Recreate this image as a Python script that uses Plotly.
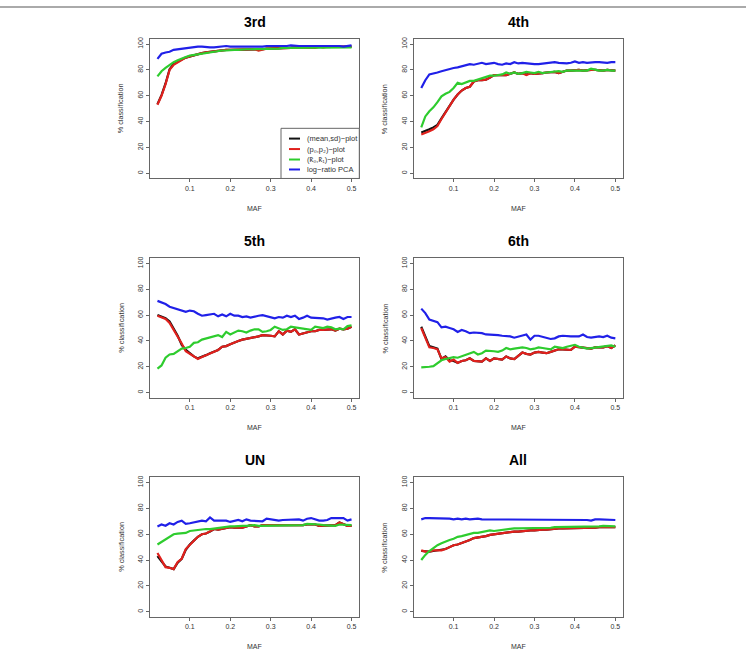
import plotly.graph_objects as go

W, H = 746, 654

# ---------------- data ----------------
maf = [0.02, 0.03, 0.04, 0.05, 0.06, 0.07, 0.08, 0.09, 0.10, 0.11,
       0.12, 0.13, 0.14, 0.15, 0.16, 0.17, 0.18, 0.19, 0.20, 0.21,
       0.22, 0.23, 0.24, 0.25, 0.26, 0.27, 0.28, 0.29, 0.30, 0.31,
       0.32, 0.33, 0.34, 0.35, 0.36, 0.37, 0.38, 0.39, 0.40, 0.41,
       0.42, 0.43, 0.44, 0.45, 0.46, 0.47, 0.48, 0.49, 0.50]

panel_titles = ["3rd", "4th", "5th", "6th", "UN", "All"]
series_names = ["(mean,sd)\u2212plot", "(p\u2080,p\u2082)\u2212plot",
                "(k\u0302\u2080,k\u0302\u2081)\u2212plot", "log\u2212ratio PCA"]
x_ticks = [0.1, 0.2, 0.3, 0.4, 0.5]
x_tick_labels = ["0.1", "0.2", "0.3", "0.4", "0.5"]
y_ticks = [0, 20, 40, 60, 80, 100]
y_tick_labels = ["0", "20", "40", "60", "80", "100"]

# 3rd
p3_black = [53.5, 60.5, 69.5, 80.5, 84.5, 86.5, 88, 89.5, 90.5, 91.5,
            92, 93, 93.5, 94, 94, 94.5, 95, 95.5, 95.5, 95.5,
            96, 96, 96, 96, 96, 95.5, 96, 96.5, 96.5, 96.5,
            97, 97, 97, 97, 97.5, 97.5, 97.5, 97.5, 97.5, 97.5,
            98, 97.5, 98, 98, 98, 98, 98, 98, 98]
p3_red = [53, 60, 69, 80, 84, 86, 88, 89.5, 90.5, 91.5,
          92, 93, 93.5, 94, 94, 94.5, 95, 95.5, 95.5, 95.5,
          96, 96, 96, 96, 96, 95, 96, 96.5, 96.5, 96.5,
          97, 97, 97, 97, 97.5, 97.5, 97.5, 97.5, 97.5, 97,
          98, 97.5, 98, 98, 98, 98, 98, 98, 98]
p3_green = [75, 79, 81.5, 84, 86, 87.5, 89, 90, 91, 91.5,
            92, 93, 93.5, 94, 94.5, 94.5, 95, 95, 95.5, 95.5,
            95.5, 96, 96, 96, 96, 96.5, 96.5, 96.5, 96.5, 96.5,
            96.5, 97, 97, 97, 97, 97, 97, 97, 97, 97.5,
            97, 97.5, 97.5, 97, 97.5, 97.5, 97, 97.5, 97.5]
p3_blue = [88.5, 92.5, 93.5, 94, 95.5, 96, 96.5, 97, 97.5, 97.5,
           98, 98, 97.5, 97.5, 97.5, 98, 98, 98.5, 98, 98,
           98, 98, 98, 98, 97.5, 98, 98, 98.5, 98.5, 98.5,
           98, 98.5, 98.5, 99, 98.5, 98.5, 98.5, 98.5, 98.5, 98.5,
           98.5, 99, 98.5, 99, 98.5, 98.5, 98, 98.5, 99]

# 4th
p4_black = [31.5, 32.5, 34, 35.5, 37.5, 42.5, 47.5, 53, 57, 61,
            64, 66, 67, 71, 72, 72, 72.5, 74, 76, 76,
            76, 76, 77, 78, 77, 77.5, 76.5, 77.5, 77, 77,
            77.5, 78, 78.5, 78.5, 77.5, 78.5, 79.5, 79.5, 80, 80,
            79.5, 80, 80, 80, 79.5, 79.5, 80, 79.5, 79.5]
p4_red = [30, 31, 32.5, 34, 36.5, 42, 47, 53, 57, 61,
          64, 66, 67, 71, 72, 72, 72.5, 74, 76, 76,
          76, 76, 77, 78, 77, 77.5, 76, 77.5, 77, 77,
          77.5, 78, 78.5, 78.5, 77.5, 78.5, 79.5, 79.5, 80, 80,
          79.5, 80, 80, 80, 79.5, 79.5, 80, 79.5, 79.5]
p4_green = [35.5, 44, 48, 51, 55, 59.5, 61.5, 63, 66, 70,
            69, 70, 71.5, 71.5, 72.5, 73.5, 74.5, 75.5, 75.5, 76,
            76.5, 78, 77, 78, 77, 77.5, 78.5, 78, 77.5, 78.5,
            77.5, 78, 78.5, 79, 79, 78.5, 79.5, 79.5, 79.5, 79.5,
            80, 79.5, 81, 80, 79.5, 79.5, 80, 79.5, 79.5]
p4_blue = [66, 72, 76.5, 77, 78, 79, 80, 80.5, 81.5, 82,
           83, 84, 84.5, 84, 85, 85.5, 84.5, 85, 85.5, 84.5,
           84, 85, 84.5, 86, 85, 85.5, 85, 85, 84.5, 84.5,
           85, 85, 85.5, 86, 85.5, 85, 85, 85.5, 86.5, 85.5,
           86, 85.5, 86, 86, 86, 85.5, 85.5, 86, 86]

# 5th
p5_black = [60, 59, 57.5, 55, 50, 44, 37, 33, 30.5, 28,
            26.5, 27.5, 29, 30.5, 32, 33, 35.5, 36, 37.5, 39,
            40, 41, 41.5, 42.5, 43, 43.5, 44.5, 44.5, 44, 43.5,
            47.5, 45, 48, 47, 49, 45, 46, 47, 47.5, 47.5,
            48.5, 48.5, 49, 49, 48, 49.5, 49, 49.5, 51]
p5_red = [59.5, 58.5, 57, 54, 49, 43, 38, 32, 30, 27.5,
          26, 27.5, 29, 30.5, 32, 33, 35.5, 36, 37.5, 39,
          40, 41, 41.5, 42.5, 43, 43.5, 44.5, 44.5, 44, 43.5,
          47.5, 45, 48, 47, 49, 45, 46, 47, 47.5, 47.5,
          48.5, 48.5, 49, 49, 48, 49.5, 49, 49.5, 51]
p5_green = [18.5, 21, 27, 29.5, 30, 32, 34, 34.5, 35.5, 38.5,
            39, 41, 42, 42.5, 43.5, 44.5, 43, 47, 45, 46.5,
            48, 47.5, 46.5, 48, 49, 49, 47, 47.5, 48.5, 51,
            50, 48.5, 49, 51, 50.5, 50, 50, 49, 48.5, 51,
            50.5, 50, 51, 50.5, 49, 49.5, 49, 51.5, 52]
p5_blue = [71, 70, 68.5, 66.5, 65.5, 65, 64, 62.5, 63.5, 63,
           61, 59.5, 60, 60.5, 61, 59, 60.5, 59, 61, 59.5,
           59.5, 58.5, 59, 58, 59, 59.5, 60, 59, 58, 57.5,
           58.5, 58, 59.5, 58.5, 59.5, 57, 58, 59.5, 58, 58,
           58, 57.5, 56.5, 57.5, 58, 58.5, 57, 58.5, 58.5]

# 6th
p6_black = [51, 44, 36, 35, 34, 26, 28, 25, 24.5, 23,
            24.5, 25, 26.5, 24.5, 24.5, 24, 26.5, 24.5, 26.5, 26,
            25.5, 28, 26.5, 26, 28.5, 31, 30, 29.5, 31, 31.5,
            31, 30.5, 31.5, 32.5, 33.5, 33.5, 33, 33, 35.5, 35,
            34.5, 34, 34, 35, 35, 35, 36, 34.5, 36.5]
p6_red = [50, 43, 35, 34.5, 33.5, 26.5, 27.5, 24, 25.5, 23,
          24.5, 25, 26.5, 24.5, 24.5, 24, 26.5, 24.5, 26.5, 26,
          25.5, 28, 26.5, 26, 28.5, 31, 30, 29.5, 31, 31.5,
          31, 30.5, 31.5, 32.5, 33.5, 33.5, 33, 33, 35.5, 35,
          34.5, 34, 34, 35, 35, 35, 36, 34.5, 36.5]
p6_green = [19.5, 19.5, 20, 20.5, 22.5, 25, 26, 26.5, 27.5, 27,
            28, 29.5, 30.5, 31.5, 29.5, 30.5, 32.5, 32.5, 32, 31.5,
            32.5, 34.5, 33.5, 34, 34.5, 35, 34.5, 33.5, 34, 35,
            34.5, 34, 33.5, 35.5, 35, 34.5, 35.5, 36.5, 37, 35.5,
            35, 34, 34.5, 35, 35.5, 35.5, 36, 36.5, 35.5]
p6_blue = [65, 61.5, 56.5, 55.5, 54.5, 50.5, 51, 50, 49, 47,
           48.5, 47.5, 46, 46.5, 46.5, 46, 45, 45, 44.5, 44.5,
           44, 44, 43.5, 42.5, 43.5, 44.5, 45, 41, 44, 44,
           43, 42, 41.5, 42, 43.5, 44, 43.5, 43.5, 43.5, 43.5,
           45, 43, 42.5, 43, 43.5, 43, 44, 42.5, 42]

# UN
pu_black = [43, 39, 35, 34, 33, 38, 41, 48, 52, 55,
            58, 60, 60.5, 62, 64, 63.5, 64, 65, 65.5, 65,
            65, 65, 66, 67, 66, 66, 67, 67, 67, 66.5,
            66.5, 67, 66.5, 66.5, 66.5, 66.5, 67, 67.5, 67.5, 67.5,
            66.5, 66.5, 66.5, 66.5, 67, 69, 68, 66.5, 66.5]
pu_red = [45.5, 40, 34.5, 34, 33, 38.5, 41, 48.5, 52, 55,
          58, 60, 60.5, 62, 64, 63.5, 64, 65, 65.5, 65,
          65, 65, 66, 67, 66, 66, 67, 67, 67, 66.5,
          66.5, 67, 66.5, 66.5, 66.5, 66.5, 67, 67.5, 67.5, 67.5,
          66.5, 66.5, 66.5, 66.5, 67, 69, 68, 66.5, 66.5]
pu_green = [52, 54, 56.5, 58.5, 60, 60.5, 60.5, 61, 62.5, 63,
            63.5, 63.5, 64, 64, 64.5, 65, 65, 66, 66, 66,
            66.5, 66.5, 66.5, 67, 67, 66.5, 66.5, 67, 67, 67,
            67, 67, 67, 67, 67, 67, 67, 68, 68, 67.5,
            67.5, 67, 67, 67, 66.5, 67.5, 67.5, 67, 67]
pu_blue = [66, 67.5, 66.5, 68.5, 67.5, 69.5, 70.5, 68, 68.5, 69,
           69.5, 70.5, 70, 73, 70.5, 70.5, 70.5, 70.5, 69.5, 70.5,
           71, 70, 71.5, 70.5, 70.5, 70, 70, 72, 71.5, 70.5,
           70.5, 71, 71, 71.5, 71, 71.5, 70.5, 72, 72.5, 71.5,
           70.5, 70.5, 71, 72.5, 72.5, 72.5, 72.5, 70.5, 71.5]

# All
pa_black = [47, 46.5, 46.5, 47, 47.5, 47.5, 48.5, 50, 51.5, 52,
            53, 54.5, 55.5, 57, 57.5, 57.5, 58.5, 59.5, 60, 60,
            60.5, 61, 61.5, 62, 62, 62.5, 62.5, 63, 63, 63.5,
            63.5, 63.5, 64, 64, 64.5, 64.5, 64.5, 65, 65, 65,
            65, 65, 65, 65, 65.5, 65.5, 65.5, 65.5, 65.5]
pa_red = [47.5, 46.5, 46.5, 47.5, 47.5, 47.5, 48.5, 50, 51.5, 52,
          53, 54.5, 55.5, 57, 57.5, 57.5, 58.5, 59.5, 60, 60,
          60.5, 61, 61.5, 62, 62, 62.5, 62.5, 63, 63, 63.5,
          63.5, 63.5, 64, 64, 64.5, 64.5, 64.5, 65, 65, 65,
          65, 65, 65, 65, 65.5, 65.5, 65.5, 65.5, 65.5]
pa_green = [40, 44, 47, 49.5, 51.5, 53, 54.5, 55.5, 56.5, 58,
            58.5, 59.5, 60.5, 61, 61, 61.5, 62.5, 63, 62.5, 63,
            63.5, 64, 64, 64.5, 64.5, 64.5, 64.5, 64.5, 64.5, 65,
            65, 65, 65, 65.5, 65.5, 65.5, 65.5, 66, 66, 66,
            66, 66, 66, 66, 66, 66.5, 66.5, 66, 66]
pa_blue = [71.5, 72.5, 72.5, 72.5, 72.5, 72, 72, 72, 71.5, 72,
           71.5, 72, 71.5, 72, 72, 71.5, 71.5, 71.5, 71.5, 71.5,
           71, 71, 71, 71, 71.5, 71.5, 71, 71, 71, 71,
           71, 71, 71, 71.5, 71, 71.5, 71, 71.5, 71.5, 71.5,
           71.5, 71, 70.5, 71.5, 71.5, 71.5, 71.5, 71, 71]

panels = [
    [p3_black, p3_red, p3_green, p3_blue],
    [p4_black, p4_red, p4_green, p4_blue],
    [p5_black, p5_red, p5_green, p5_blue],
    [p6_black, p6_red, p6_green, p6_blue],
    [pu_black, pu_red, pu_green, pu_blue],
    [pa_black, pa_red, pa_green, pa_blue],
]

# ---------------- styling ----------------
colors = ["#111111", "#e0201c", "#2ecc2e", "#2020e8"]
FONT = "Liberation Sans, Arial, DejaVu Sans, sans-serif"
AXIS_COLOR = "#666666"
TEXT_COLOR = "#333333"

col_px = [(149.7, 359.3), (413.5, 623.1)]
row_px = [(37.0, 177.0), (257.0, 397.0), (476.8, 616.8)]


def px(x):
    return x / W


def py(y):
    return 1 - y / H


fig = go.Figure()
annotations = []
shapes = []

for i, (title, ser) in enumerate(zip(panel_titles, panels)):
    r, c = divmod(i, 2)
    x0, x1 = col_px[c]
    y0, y1 = row_px[r]
    n = i + 1
    xa = "x" if n == 1 else f"x{n}"
    ya = "y" if n == 1 else f"y{n}"
    for k, vals in enumerate(ser):
        assert len(vals) == len(maf)
        fig.add_trace(go.Scatter(
            x=maf, y=vals, mode="lines", xaxis=xa, yaxis=ya,
            line=dict(color=colors[k], width=2.2),
            showlegend=False, hoverinfo="skip"))
    axis_common = dict(showline=True, mirror=True, linecolor=AXIS_COLOR, linewidth=1,
                       ticks="outside", ticklen=3, tickwidth=1, tickcolor=AXIS_COLOR,
                       showgrid=False, zeroline=False,
                       tickfont=dict(family=FONT, size=7, color=TEXT_COLOR))
    fig.layout[f"xaxis{'' if n == 1 else n}"] = dict(
        domain=[px(x0), px(x1)], anchor=ya, range=[0.0008, 0.5192],
        tickvals=x_ticks, ticktext=x_tick_labels, **axis_common)
    fig.layout[f"yaxis{'' if n == 1 else n}"] = dict(
        domain=[py(y1), py(y0)], anchor=xa, range=[-4, 104],
        tickvals=y_ticks, ticktext=y_tick_labels, tickangle=-90, **axis_common)
    cx = (x0 + x1) / 2
    cy = (y0 + y1) / 2
    annotations.append(dict(text=f"<b>{title}</b>", x=px(cx), y=py(y0 - 17),
                            xref="paper", yref="paper", showarrow=False,
                            xanchor="center", yanchor="middle",
                            font=dict(family=FONT, size=14, color="#000000")))
    annotations.append(dict(text="MAF", x=px(cx), y=py(y1 + 30),
                            xref="paper", yref="paper", showarrow=False,
                            xanchor="center", yanchor="middle",
                            font=dict(family=FONT, size=7, color=TEXT_COLOR)))
    annotations.append(dict(text="% classification", x=px(x0 - 29), y=py(cy),
                            xref="paper", yref="paper", showarrow=False,
                            textangle=-90, xanchor="center", yanchor="middle",
                            font=dict(family=FONT, size=7.3, color=TEXT_COLOR)))

# legend (drawn in the first panel, bottom right)
lx0, lx1 = 281.0, col_px[0][1]
ly0, ly1 = 126.7, row_px[0][1]
shapes.append(dict(type="rect", xref="paper", yref="paper",
                   x0=px(lx0), x1=px(lx1), y0=py(ly1), y1=py(ly0),
                   line=dict(color=AXIS_COLOR, width=1), fillcolor="white"))
leg_y = [137.0, 147.5, 158.0, 168.0]
for k, name in enumerate(series_names):
    shapes.append(dict(type="line", xref="paper", yref="paper",
                       x0=px(289), x1=px(300), y0=py(leg_y[k]), y1=py(leg_y[k]),
                       line=dict(color=colors[k], width=2)))
    annotations.append(dict(text=name, x=px(305), y=py(leg_y[k]),
                            xref="paper", yref="paper", showarrow=False,
                            xanchor="left", yanchor="middle",
                            font=dict(family=FONT, size=7.5, color=TEXT_COLOR)))

# top rule
shapes.append(dict(type="line", xref="paper", yref="paper",
                   x0=0, x1=1, y0=py(5), y1=py(5),
                   line=dict(color="#aaaaaa", width=2)))

fig.update_layout(width=W, height=H, margin=dict(l=0, r=0, t=0, b=0),
                  paper_bgcolor="white", plot_bgcolor="white",
                  annotations=annotations, shapes=shapes,
                  font=dict(family=FONT))

fig.write_html("out.html")
